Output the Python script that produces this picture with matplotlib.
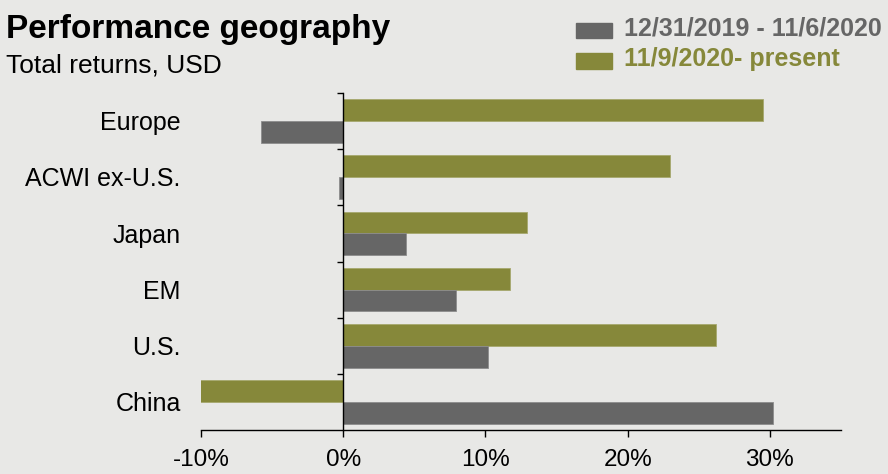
import matplotlib
matplotlib.use("Agg")
import matplotlib.pyplot as plt
import numpy as np

plt.rcParams["font.family"] = ["Liberation Sans", "DejaVu Sans"]

regions = ["Europe", "ACWI ex-U.S.", "Japan", "EM", "U.S.", "China"]
before = [-5.8, -0.3, 4.4, 7.9, 10.2, 30.2]     # 12/31/2019 - 11/6/2020
after = [29.5, 23.0, 12.9, 11.7, 26.2, -10.1]   # 11/9/2020 - present
xticks = [-10, 0, 10, 20, 30]

bg = "#e8e8e6"
grey = "#666666"
olive = "#86883a"

W, H = 888, 474
fig = plt.figure(figsize=(W / 100, H / 100), dpi=100, facecolor=bg)
ax = fig.add_axes([201 / W, 1 - 430 / H, (841 - 201) / W, (430 - 93) / H])
ax.set_facecolor(bg)

y = np.arange(len(regions))
h = 0.39
ax.barh(y - h / 2, after, height=h, color=olive, edgecolor="#a6a86e", linewidth=0.6, zorder=2)
ax.barh(y + h / 2, before, height=h, color=grey, edgecolor="#8c8c8c", linewidth=0.6, zorder=2)

ax.set_xlim(-10, 35)
ax.set_ylim(len(regions) - 0.5, -0.5)

for s in ["top", "right"]:
    ax.spines[s].set_visible(False)
ax.spines["left"].set_position(("data", 0))
ax.spines["left"].set_zorder(3)
ax.spines["left"].set_linewidth(1.0)
ax.spines["bottom"].set_linewidth(1.0)

ax.set_xticks(xticks)
ax.set_xticklabels([f"{t}%" for t in xticks])
ax.tick_params(axis="x", direction="out", length=5, width=1.0, pad=8.5, labelsize=17.5)
ax.set_yticks(np.arange(-0.5, len(regions) - 0.5, 1.0))
ax.set_yticklabels([])
ax.tick_params(axis="y", direction="out", length=4.5, width=1.0)

for i, name in enumerate(regions):
    ax.annotate(name, xy=(0, i), xycoords=("axes fraction", "data"),
                xytext=(-14.5, -1.5), textcoords="offset points",
                ha="right", va="center", fontsize=18)

# header
fig.text(6 / W, 1 - 38 / H, "Performance geography", fontsize=24,
         fontweight="bold", va="baseline", ha="left")
fig.text(6 / W, 1 - 72 / H, "Total returns, USD", fontsize=19,
         va="baseline", ha="left")

# legend
legend = [("12/31/2019 - 11/6/2020", grey, 23, 38, 35),
          ("11/9/2020- present", olive, 53, 69, 66)]
for label, col, top, bot, base in legend:
    fig.patches.append(plt.Rectangle((576 / W, 1 - bot / H), 36 / W, (bot - top) / H,
                                     transform=fig.transFigure, color=col))
    fig.text(624 / W, 1 - base / H, label, fontsize=18, fontweight="bold",
             color=col, va="baseline", ha="left")

fig.savefig("out.png", dpi=100, facecolor=bg)
